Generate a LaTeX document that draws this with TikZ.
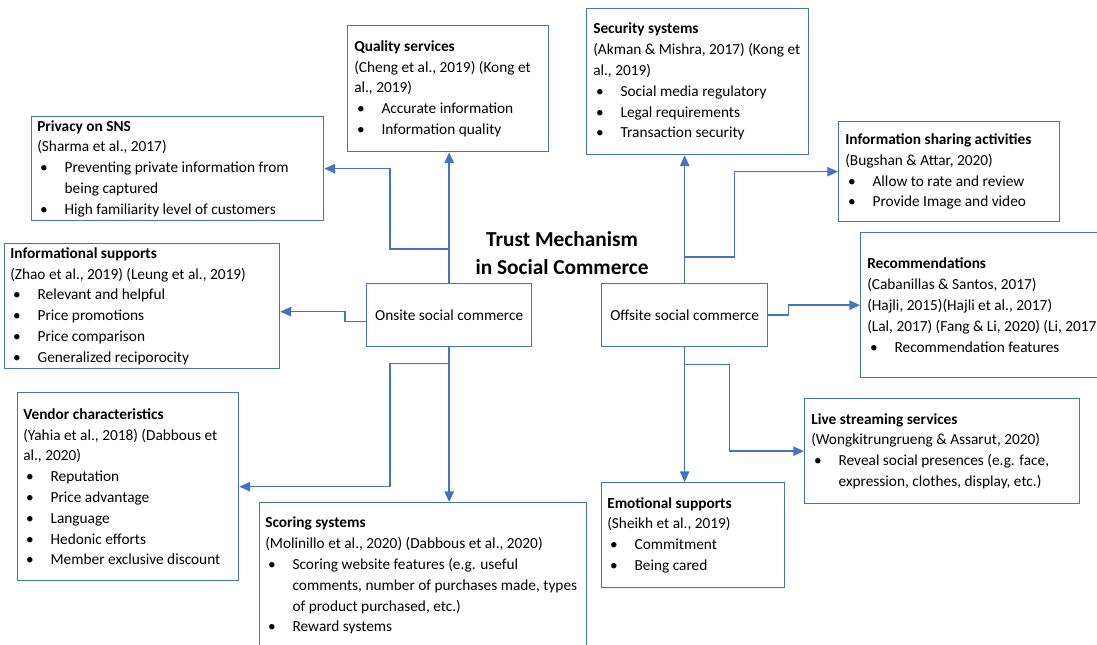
\documentclass[tikz,border=0pt]{standalone}
\usepackage{fontspec}
\setmainfont{Carlito}
\usepackage{tikz}
\usetikzlibrary{arrows.meta, positioning, calc}
\definecolor{tmBlue}{HTML}{4472C4}
\newcommand{\pxu}{0.75pt}
\newlength{\itmw}\setlength{\itmw}{20.5pt}
\newcommand{\itm}[1]{\makebox[\itmw][l]{\hspace{2.2pt}\textbullet}#1}

\begin{document}
\begin{tikzpicture}[x=0.75pt, y=-0.75pt,
  font=\fontsize{11.5}{15.6}\selectfont,
  card/.style={draw=tmBlue, line width=1pt, anchor=north west, inner sep=0pt, align=center},
  txt/.style={anchor=west, align=left, inner sep=0pt},
  link/.style={draw=tmBlue, line width=1.1pt, -{Triangle[length=8pt, width=7pt]}}]
  \path[use as bounding box, fill=white] (0,0) rectangle (1097,644);
  \clip (0,0) rectangle (1097,644);

  % tytul
  \node[font=\bfseries\fontsize{16}{21}\selectfont, align=center] (title) at (562,253)
    {Trust Mechanism\\in Social Commerce};

  % dwa rodzaje
  \node[card, minimum width=165*\pxu, minimum height=63*\pxu] (onsite) at (366,283) {Onsite social commerce};
  \node[card, minimum width=166*\pxu, minimum height=63*\pxu] (offsite) at (601,283) {Offsite social commerce};

  % onsite
  \node[card, minimum width=201*\pxu, minimum height=126*\pxu] (quality) at (347,25) {};
  \node[txt] (qualityT) at ([xshift=7*\pxu]quality.west)
    {\textbf{Quality services}\\(Cheng et al., 2019) (Kong et\\al., 2019)\\
     \itm{Accurate information}\\\itm{Information quality}};
  \node[card, minimum width=292*\pxu, minimum height=104*\pxu] (privacy) at (31,116) {};
  \node[txt] (privacyT) at ([xshift=6*\pxu]privacy.west)
    {\textbf{Privacy on SNS}\\(Sharma et al., 2017)\\
     \itm{Preventing private information from}\\\hspace*{\itmw}being captured\\
     \itm{High familiarity level of customers}};
  \node[card, minimum width=275*\pxu, minimum height=125*\pxu] (info) at (4,243) {};
  \node[txt] (infoT) at ([xshift=6*\pxu]info.west)
    {\textbf{Informational supports}\\(Zhao et al., 2019) (Leung et al., 2019)\\
     \itm{Relevant and helpful}\\\itm{Price promotions}\\\itm{Price comparison}\\
     \itm{Generalized reciporocity}};
  \node[card, minimum width=221*\pxu, minimum height=188*\pxu] (vendor) at (17,392) {};
  \node[txt] (vendorT) at ([xshift=6*\pxu]vendor.west)
    {\textbf{Vendor characteristics}\\(Yahia et al., 2018) (Dabbous et\\al., 2020)\\
     \itm{Reputation}\\\itm{Price advantage}\\\itm{Language}\\\itm{Hedonic efforts}\\
     \itm{Member exclusive discount}};
  \node[card, minimum width=327*\pxu, minimum height=146*\pxu] (scoring) at (259,502) {};
  \node[txt] (scoringT) at ([xshift=6*\pxu]scoring.west)
    {\textbf{Scoring systems}\\(Molinillo et al., 2020) (Dabbous et al., 2020)\\
     \itm{Scoring website features (e.g. useful}\\
     \hspace*{\itmw}comments, number of purchases made, types\\
     \hspace*{\itmw}of product purchased, etc.)\\\itm{Reward systems}};

  % offsite
  \node[card, minimum width=222*\pxu, minimum height=146*\pxu] (security) at (586,8) {};
  \node[txt] (securityT) at ([xshift=7*\pxu]security.west)
    {\textbf{Security systems}\\(Akman \& Mishra, 2017) (Kong et\\al., 2019)\\
     \itm{Social media regulatory}\\\itm{Legal requirements}\\\itm{Transaction security}};
  \node[card, minimum width=221*\pxu, minimum height=100*\pxu] (share) at (838,121) {};
  \node[txt] (shareT) at ([xshift=7*\pxu]share.west)
    {\textbf{Information sharing activities}\\(Bugshan \& Attar, 2020)\\
     \itm{Allow to rate and review}\\\itm{Provide Image and video}};
  \node[card, minimum width=246*\pxu, minimum height=145*\pxu] (rec) at (860,232) {};
  \node[txt] (recT) at ([xshift=7*\pxu]rec.west)
    {\textbf{Recommendations}\\(Cabanillas \& Santos, 2017)\\(Hajli, 2015)(Hajli et al., 2017)\\
     (Lal, 2017) (Fang \& Li, 2020) (Li, 2017)\\\itm{Recommendation features}};
  \node[card, minimum width=275*\pxu, minimum height=105*\pxu] (live) at (804,398) {};
  \node[txt] (liveT) at ([xshift=7*\pxu]live.west)
    {\textbf{Live streaming services}\\(Wongkitrungrueng \& Assarut, 2020)\\
     \itm{Reveal social presences (e.g. face,}\\\hspace*{\itmw}expression, clothes, display, etc.)};
  \node[card, minimum width=183*\pxu, minimum height=105*\pxu] (emo) at (601,482) {};
  \node[txt] (emoT) at ([xshift=6*\pxu]emo.west)
    {\textbf{Emotional supports}\\(Sheikh et al., 2019)\\\itm{Commitment}\\\itm{Being cared}};

  % polaczenia
  \coordinate (onUp) at ($(onsite.north)+(0,-34)$);
  \coordinate (onDown) at ($(onsite.south)+(0,16)$);
  \coordinate (offUp) at ($(offsite.north)+(0,-26)$);
  \coordinate (offDown) at ($(offsite.south)+(0,17)$);
  \foreach \s/\t in {onsite.north/quality.south, onsite.south/scoring.north,
                     offsite.north/security.south, offsite.south/emo.north}
    {\draw[link] (\s) -- (\s |- \t);}
  \draw[link] (onUp) -- ++(-59,0) |- (privacy.east);
  \draw[link] ([yshift=-6.5*\pxu]onsite.west) -- ++(-21,0) |- ([yshift=-5.5*\pxu]info.east);
  \draw[link] (onDown) -- ++(-59,0) |- (vendor.east);
  \draw[link] (offUp) -- ++(50,0) |- (share.west);
  \draw[link] (offsite.east) -- ++(20,0) |- (rec.west);
  \draw[link] (offDown) -- ++(45,0) |- (live.west);
\end{tikzpicture}
\end{document}
